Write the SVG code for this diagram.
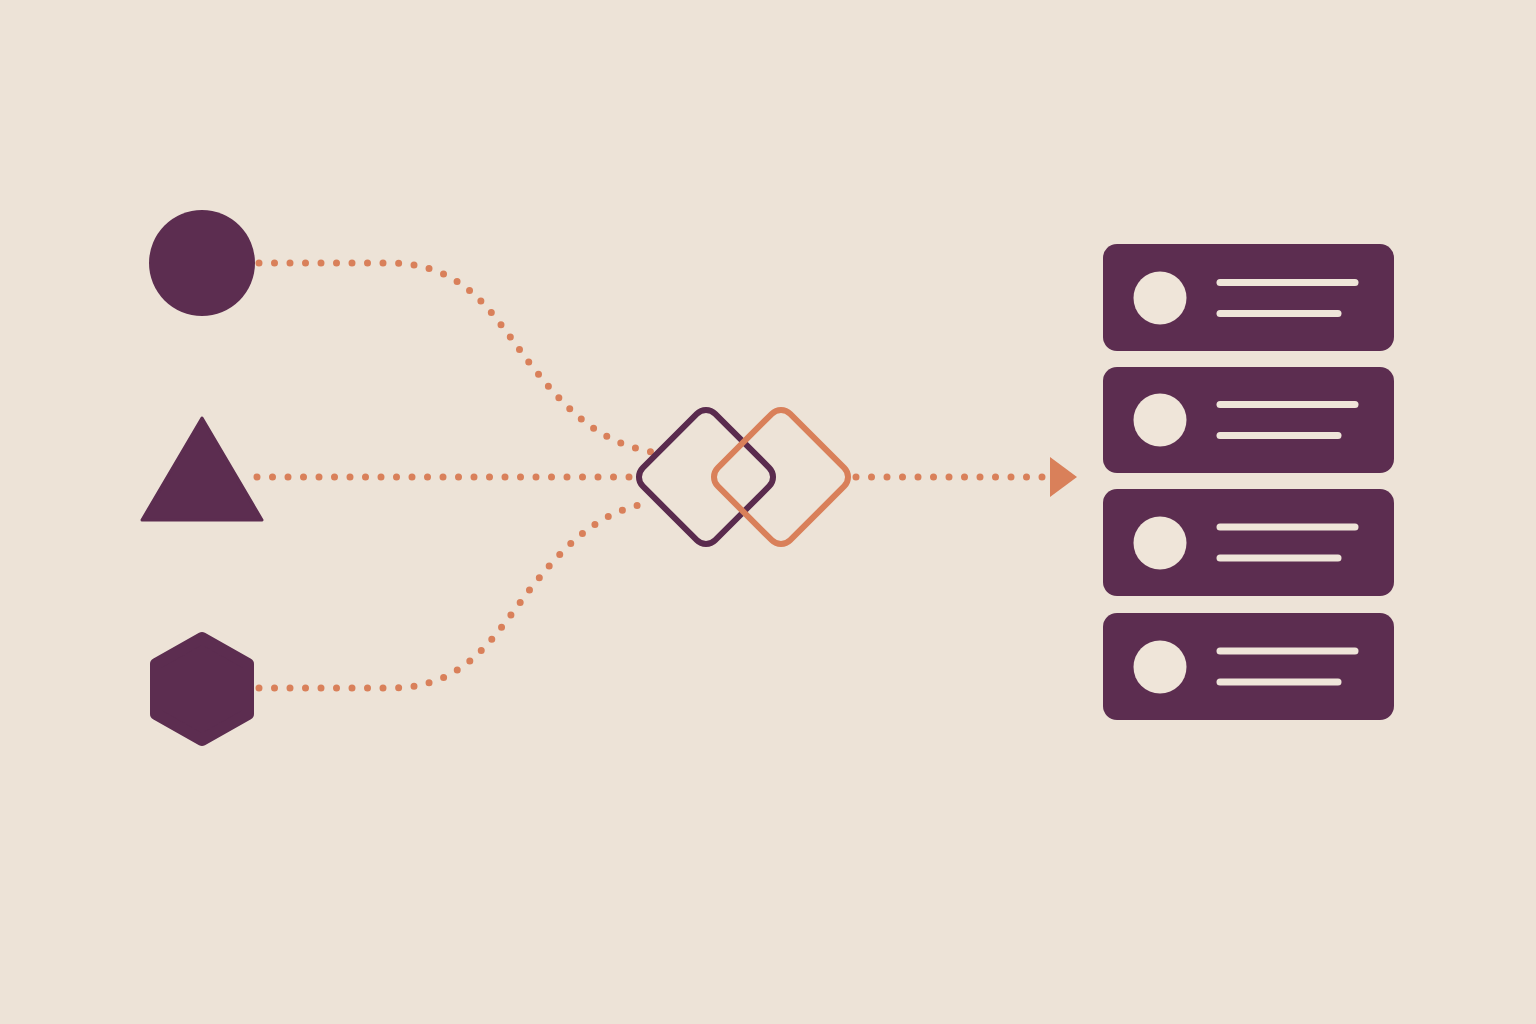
<svg xmlns="http://www.w3.org/2000/svg" width="1536" height="1024" viewBox="0 0 1536 1024">
  <defs>
    <style>
      .shape { fill: #5C2D50; }
      .dots { fill: none; stroke: #D9805A; stroke-width: 7; stroke-linecap: round; stroke-dasharray: 0 15.5; }
      .card { fill: #5C2D50; }
      .cream { fill: #EFE5D9; }
      .bar { stroke: #EFE5D9; stroke-width: 7; stroke-linecap: round; }
    </style>
  </defs>
  <rect width="1536" height="1024" fill="#EDE3D7"/>

  <g id="connectors">
    <path class="dots" d="M259,263 L390,263 C470,263 495,320 535,370 C575,420 605,443 652,452"/>
    <path class="dots" d="M257,477 L636,477"/>
    <path class="dots" d="M259,688 L390,688 C470,688 495,633 535,583 C575,533 605,511 652,502"/>
    <path class="dots" d="M856,477 L1052,477"/>
    <polygon points="1050,457 1077,477 1050,497" fill="#D9805A"/>
  </g>

  <g id="circle-node">
    <circle class="shape" cx="202" cy="263" r="53"/>
  </g>
  <g id="triangle-node">
    <path class="shape" d="M202,418 L262,520 L142,520 Z" stroke="#5C2D50" stroke-width="3" stroke-linejoin="round"/>
  </g>
  <g id="hexagon-node">
    <path class="shape" d="M202,638 L248,664 L248,714 L202,740 L156,714 L156,664 Z" stroke="#5C2D50" stroke-width="12" stroke-linejoin="round"/>
  </g>

  <g id="merge-node">
    <rect x="654.8" y="425.8" width="102.4" height="102.4" rx="13" transform="rotate(45 706 477)" fill="none" stroke="#5A2B4E" stroke-width="6"/>
    <rect x="729.8" y="425.8" width="102.4" height="102.4" rx="13" transform="rotate(45 781 477)" fill="none" stroke="#D9805A" stroke-width="6"/>
  </g>

  <g id="list-node">
    <g id="card-1">
      <rect class="card" x="1103" y="244" width="291" height="107" rx="14"/>
      <circle class="cream" cx="1160" cy="298" r="26.5"/>
      <line class="bar" x1="1220" y1="282.5" x2="1355" y2="282.5"/>
      <line class="bar" x1="1220" y1="313.5" x2="1338" y2="313.5"/>
    </g>
    <g id="card-2">
      <rect class="card" x="1103" y="367" width="291" height="106" rx="14"/>
      <circle class="cream" cx="1160" cy="420" r="26.5"/>
      <line class="bar" x1="1220" y1="404.5" x2="1355" y2="404.5"/>
      <line class="bar" x1="1220" y1="435.5" x2="1338" y2="435.5"/>
    </g>
    <g id="card-3">
      <rect class="card" x="1103" y="489" width="291" height="107" rx="14"/>
      <circle class="cream" cx="1160" cy="543" r="26.5"/>
      <line class="bar" x1="1220" y1="527" x2="1355" y2="527"/>
      <line class="bar" x1="1220" y1="558" x2="1338" y2="558"/>
    </g>
    <g id="card-4">
      <rect class="card" x="1103" y="613" width="291" height="107" rx="14"/>
      <circle class="cream" cx="1160" cy="667" r="26.5"/>
      <line class="bar" x1="1220" y1="651" x2="1355" y2="651"/>
      <line class="bar" x1="1220" y1="682" x2="1338" y2="682"/>
    </g>
  </g>
</svg>
